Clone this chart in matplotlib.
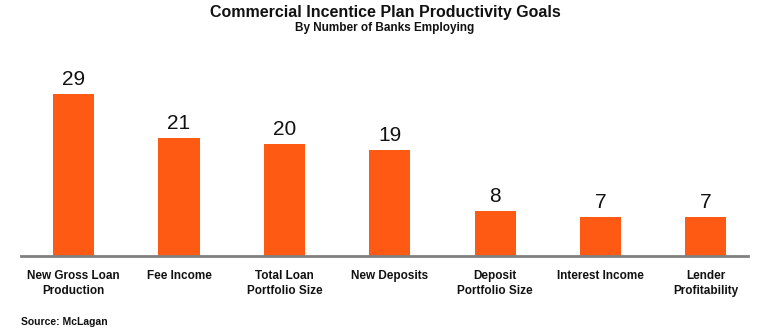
import matplotlib.pyplot as plt

categories = ["New Gross Loan\nProduction", "Fee Income", "Total Loan\nPortfolio Size",
              "New Deposits", "Deposit\nPortfolio Size", "Interest Income", "Lender\nProfitability"]
banks = [29, 21, 20, 19, 8, 7, 7]

plt.rcParams['font.family'] = ['Liberation Sans', 'DejaVu Sans']

fig = plt.figure(figsize=(7.7, 3.28), dpi=100)
ax = fig.add_axes([21 / 770, 1 - 256 / 328, 727 / 770, 196 / 328])

x = range(len(categories))
bars = ax.bar(x, banks, width=0.39, color='#FF5A14')
for b, v in zip(bars, banks):
    ax.text(b.get_x() + b.get_width() / 2, v + 0.9, str(v), ha='center', va='bottom',
            fontsize=15, color='#111111')

ax.set_xlim(-0.5, 6.4)
ax.set_ylim(0, 35)
ax.set_xticks(list(x))
ax.set_xticklabels(categories, fontsize=8.5, fontweight='bold', color='#111111',
                   linespacing=1.35)
ax.tick_params(axis='x', length=0, pad=10)
ax.set_yticks([])
for s in ['top', 'right', 'left']:
    ax.spines[s].set_visible(False)
ax.spines['bottom'].set_color('#808080')
ax.spines['bottom'].set_linewidth(2)

fig.text(0.5, 1 - 12 / 328, "Commercial Incentice Plan Productivity Goals", ha='center',
         va='center', fontsize=11.5, fontweight='bold', color='#111111')
fig.text(0.5, 1 - 28 / 328, "By Number of Banks Employing", ha='center', va='center',
         fontsize=8.5, fontweight='bold', color='#111111')
fig.text(21 / 770, 1 - 322 / 328, "Source: McLagan", ha='left', va='center',
         fontsize=7.5, fontweight='bold', color='#111111')

fig.savefig('out.png', dpi=100)
